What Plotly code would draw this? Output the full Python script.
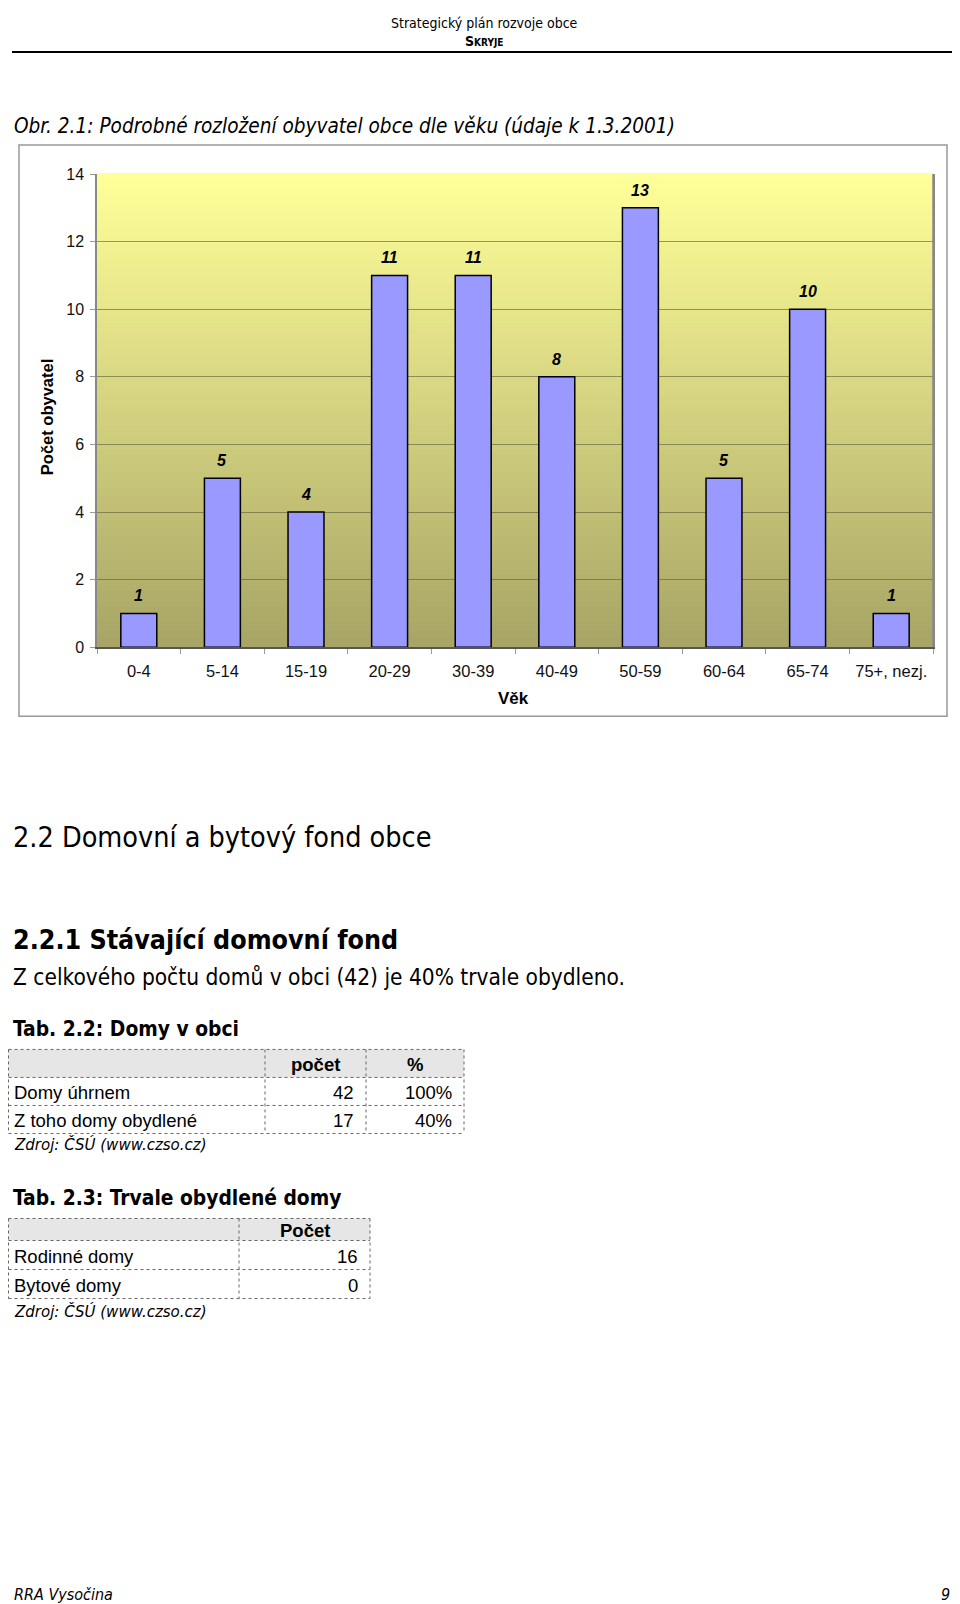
"""Page 9 of the Skryje strategic plan: age histogram plus two small housing tables."""

import plotly.graph_objects as go

# the page puts the figure 8px in from the left and 16px down, and the shot
# squeezes it a little vertically; positions below are in window pixels
OX, OY, SY = 8, 16, 0.989
W, H = 952, 1606

# --- data -----------------------------------------------------------------
age_groups = ["0-4", "5-14", "15-19", "20-29", "30-39", "40-49",
              "50-59", "60-64", "65-74", "75+, nezj."]
residents = [1, 5, 4, 11, 11, 8, 13, 5, 10, 1]

houses_rows = ["Domy úhrnem", "Z toho domy obydlené"]
houses_header = ["", "počet", "%"]
houses_count = [42, 17]
houses_pct = ["100%", "40%"]

occupied_rows = ["Rodinné domy", "Bytové domy"]
occupied_header = ["", "Počet"]
occupied_count = [16, 0]

SOURCE = "Zdroj: ČSÚ (www.czso.cz)"

BODY = "DejaVu Sans Condensed, Tahoma, DejaVu Sans, sans-serif"
ARIAL = "Liberation Sans, Arial, sans-serif"


def px(x):
    return (x - OX) / W


def py(y):
    return 1 - ((y - OY) / SY) / H


def text(fig, s, x, y, size, anchor="left", font=BODY, **kw):
    fig.add_annotation(
        text=s, x=px(x), y=py(y), xref="paper", yref="paper",
        xanchor=anchor, yanchor="middle", showarrow=False,
        font={"family": font, "size": size, "color": "#000", **kw},
    )


fig = go.Figure()
fig.add_trace(
    go.Bar(
        x=age_groups,
        y=residents,
        width=0.43,
        marker={"color": "#9999FF", "line": {"color": "#000", "width": 1.5}},
        showlegend=False,
    )
)
for cat, val in zip(age_groups, residents):
    fig.add_annotation(
        x=cat, y=val, text=str(val), showarrow=False, yanchor="bottom", yshift=7,
        font={"family": ARIAL, "size": 16, "color": "#000",
              "weight": "bold", "style": "italic"},
    )

# plot area gradient (light yellow -> olive)
top, bottom = (0xFF, 0xFF, 0x99), (0xA8, 0xA5, 0x66)
n = 60
for i in range(n):
    t = i / (n - 1)
    c = tuple(round(top[k] + (bottom[k] - top[k]) * t) for k in range(3))
    fig.add_shape(
        type="rect", xref="x domain", yref="y domain",
        x0=0, x1=1, y0=1 - (i + 1) / n, y1=1 - i / n + 0.002,
        fillcolor="rgb(%d,%d,%d)" % c, line_width=0, layer="below",
    )

# chart frame
fig.add_shape(type="rect", xref="paper", yref="paper",
              x0=px(19), x1=px(947), y0=py(716), y1=py(145),
              line={"color": "#999", "width": 1.5})

fig.update_xaxes(
    domain=[px(97), px(933)],
    showline=True, linecolor="#555", linewidth=1.5, mirror=False,
    ticks="outside", tickson="boundaries", ticklen=5, tickcolor="#999",
    ticklabelstandoff=8,
    tickfont={"family": ARIAL, "size": 16.5, "color": "#111"},
    showgrid=False,
)
fig.update_yaxes(
    domain=[py(647), py(174)],
    range=[0, 14], dtick=2,
    showline=True, linecolor="#888", linewidth=1.5, mirror=True,
    ticks="outside", ticklen=5, tickcolor="#999", ticklabelstandoff=3,
    tickfont={"family": ARIAL, "size": 16, "color": "#111"},
    showgrid=True, gridcolor="rgba(100,98,60,0.65)", gridwidth=1,
    zeroline=False,
)
# right edge of plot area
fig.add_shape(type="line", xref="x domain", yref="y domain",
              x0=1, x1=1, y0=0, y1=1, line={"color": "#888", "width": 1.5})

fig.add_annotation(text="<b>Počet obyvatel</b>", x=px(47), y=py(417),
                   xref="paper", yref="paper", textangle=-90, showarrow=False,
                   xanchor="center", yanchor="middle",
                   font={"family": ARIAL, "size": 16.5, "color": "#000"})
text(fig, "<b>Věk</b>", 513, 698, 17, anchor="center", font=ARIAL)

# --- page furniture -------------------------------------------------------
text(fig, "Strategický plán rozvoje obce", 484, 23, 14, anchor="center")
fig.add_annotation(text="Skryje", x=px(484), y=py(41), xref="paper", yref="paper",
                   showarrow=False, yanchor="middle",
                   font={"family": BODY, "size": 14, "color": "#000",
                         "weight": "bold", "variant": "small-caps"})
fig.add_shape(type="line", xref="paper", yref="paper",
              x0=px(12), x1=px(955), y0=py(52), y1=py(52),
              line={"color": "#000", "width": 2})

text(fig, "Obr. 2.1: Podrobné rozložení obyvatel obce dle věku (údaje k 1.3.2001)",
     12, 126, 20.6, style="italic")

text(fig, "2.2 Domovní a bytový fond obce", 11, 837, 28.5)
text(fig, "<b>2.2.1 Stávající domovní fond</b>", 11, 939, 26.6)
text(fig, "Z celkového počtu domů v obci (42) je 40% trvale obydleno.", 11, 977, 22.5)
text(fig, "<b>Tab. 2.2: Domy v obci</b>", 11, 1029, 20.8)
text(fig, "<b>Tab. 2.3: Trvale obydlené domy</b>", 11, 1198, 20.8)

text(fig, "RRA Vysočina", 12, 1594, 16, style="italic")
text(fig, "9", 952, 1594, 16, anchor="right", style="italic")


# --- tables ---------------------------------------------------------------
def draw_table(cols, rows_y, header, body, source_y):
    # header band
    fig.add_shape(type="rect", xref="paper", yref="paper",
                  x0=px(cols[0]), x1=px(cols[-1]), y0=py(rows_y[1]), y1=py(rows_y[0]),
                  fillcolor="#E6E6E6", line_width=0, layer="below")
    dot = {"color": "#666", "width": 1, "dash": "dot"}
    for y in rows_y:
        fig.add_shape(type="line", xref="paper", yref="paper",
                      x0=px(cols[0]), x1=px(cols[-1]), y0=py(y), y1=py(y), line=dot)
    for x in cols:
        fig.add_shape(type="line", xref="paper", yref="paper",
                      x0=px(x), x1=px(x), y0=py(rows_y[0]), y1=py(rows_y[-1]), line=dot)
    hy = (rows_y[0] + rows_y[1]) / 2 + 1
    for j, h in enumerate(header):
        if h:
            text(fig, "<b>%s</b>" % h, (cols[j] + cols[j + 1]) / 2, hy, 18.5,
                 anchor="center", font=ARIAL)
    for i, row in enumerate(body):
        ry = (rows_y[i + 1] + rows_y[i + 2]) / 2 + 1
        text(fig, row[0], 12, ry, 18.5, font=ARIAL)
        for j, v in enumerate(row[1:], start=1):
            text(fig, str(v), cols[j + 1] - 10, ry, 18.5, anchor="right", font=ARIAL)
    text(fig, SOURCE, 12, source_y, 16.7, style="italic")


draw_table([8.5, 265, 366, 464], [1049, 1077, 1105, 1133], houses_header,
           list(zip(houses_rows, houses_count, houses_pct)), 1144)
draw_table([8.5, 239, 370], [1218, 1240, 1269, 1298], occupied_header,
           list(zip(occupied_rows, occupied_count)), 1310)

fig.update_layout(
    width=W, height=H,
    margin={"l": 0, "r": 0, "t": 0, "b": 0},
    paper_bgcolor="#fff", plot_bgcolor="rgba(0,0,0,0)",
    bargap=0.57,
)

fig.write_html("out.html")
